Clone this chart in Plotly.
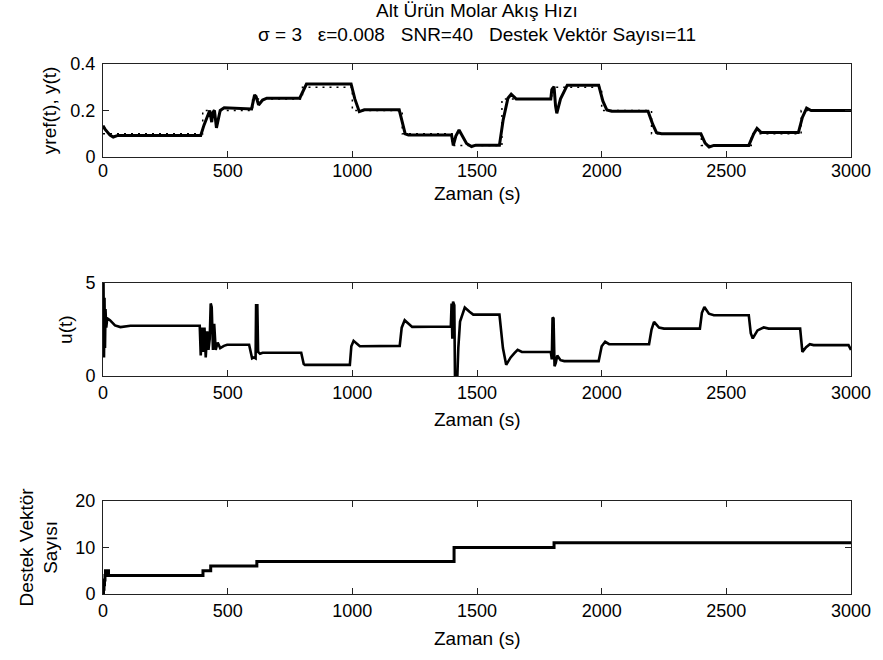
import plotly.graph_objects as go

# ---------------- data ----------------
# Top panel: plant output y(t)
t_y = [0, 8, 28, 41, 60, 392, 405, 418, 428, 436, 440, 447, 455, 470, 486, 596, 608, 614, 624, 640,
       657, 789, 816, 995, 1010, 1028, 1048, 1188, 1200, 1212, 1225, 1398, 1405, 1415, 1428, 1440,
       1458, 1478, 1495, 1590, 1605, 1624, 1637, 1657, 1796, 1800, 1809, 1815, 1820, 1835, 1862,
       1988, 2005, 2021, 2040, 2186, 2205, 2220, 2240, 2398, 2415, 2431, 2450, 2590, 2610, 2623,
       2640, 2789, 2805, 2822, 2840, 3000]
y_out = [0.135, 0.12, 0.094, 0.086, 0.093, 0.093, 0.137, 0.17, 0.2, 0.15, 0.19, 0.2, 0.125, 0.2, 0.212,
         0.207, 0.267, 0.26, 0.224, 0.245, 0.253, 0.253, 0.314, 0.314, 0.25, 0.195, 0.203, 0.203,
         0.15, 0.1, 0.095, 0.095, 0.05, 0.09, 0.116, 0.09, 0.058, 0.045, 0.051, 0.051, 0.16, 0.253,
         0.27, 0.25, 0.25, 0.29, 0.303, 0.22, 0.188, 0.25, 0.309, 0.309, 0.24, 0.202, 0.197, 0.197,
         0.14, 0.105, 0.1, 0.1, 0.06, 0.043, 0.05, 0.05, 0.1, 0.123, 0.105, 0.105, 0.17, 0.21, 0.2, 0.2]

# Top panel: reference yref(t) (piecewise constant)
t_ref = [0, 400, 600, 800, 1000, 1200, 1400, 1600, 1800, 2000, 2200, 2400, 2600, 2800, 3000]
y_ref = [0.1, 0.2, 0.25, 0.3, 0.2, 0.1, 0.05, 0.25, 0.3, 0.2, 0.1, 0.05, 0.1, 0.2, 0.2]

# Middle panel: control signal u(t)
t_u = [0, 2, 4, 6, 8, 10, 13, 17, 28, 48, 70, 90, 110, 388, 392, 397, 402, 407, 412, 418, 423, 428,
       432, 436, 441, 446, 452, 460, 470, 485, 498, 586, 593, 598, 605, 612, 614, 619, 622, 630, 640,
       795, 805, 810, 990, 996, 1005, 1030, 1190, 1198, 1210, 1240, 1395, 1398, 1401, 1404, 1409,
       1412, 1420, 1425, 1432, 1451, 1470, 1485, 1590, 1604, 1617, 1635, 1650, 1663, 1680, 1796,
       1800, 1803, 1807, 1811, 1816, 1822, 1835, 1850, 1988, 2000, 2014, 2030, 2190, 2200, 2210,
       2230, 2250, 2394, 2402, 2412, 2430, 2450, 2590, 2598, 2606, 2625, 2650, 2670, 2796, 2801,
       2805, 2820, 2835, 2850, 2990, 3000]
u_vals = [1.0, 5.0, 1.0, 4.2, 1.5, 3.6, 2.6, 3.1, 3.0, 2.72, 2.63, 2.65, 2.7, 2.7, 1.1, 2.6, 1.3,
          2.6, 1.0, 2.4, 1.4, 2.0, 3.9, 3.7, 1.4, 2.8, 1.4, 1.8, 1.5, 1.62, 1.68, 1.68, 1.2, 0.95,
          1.0, 0.95, 3.8, 3.8, 1.3, 1.2, 1.25, 1.25, 0.65, 0.6, 0.6, 1.6, 1.89, 1.6, 1.62, 2.6, 3.0,
          2.64, 2.66, 3.9, 2.0, 4.0, 3.8, -0.5, -0.5, 1.5, 2.93, 3.68, 3.45, 3.3, 3.3, 1.5, 0.6, 1.0,
          1.23, 1.41, 1.29, 1.29, 0.9, 3.15, 3.1, 0.52, 0.7, 1.1, 0.85, 0.8, 0.8, 1.6, 1.84, 1.71,
          1.71, 2.5, 2.91, 2.6, 2.55, 2.55, 3.4, 3.71, 3.35, 3.27, 3.27, 2.3, 2.02, 2.45, 2.61, 2.55,
          2.55, 1.6, 1.3, 1.55, 1.71, 1.66, 1.66, 1.4]

# Bottom panel: number of support vectors
t_sv = [0, 2, 4, 6, 8, 10, 22, 401, 432, 617, 1408, 1809, 3000]
sv_vals = [0, 1, 2, 3, 4, 5, 4, 5, 6, 7, 10, 11, 11]

x_ticks = [0, 500, 1000, 1500, 2000, 2500, 3000]
y1_ticks = [0, 0.2, 0.4]
y2_ticks = [0, 5]
y3_ticks = [0, 10, 20]

title_1 = "Alt Ürün Molar Akış Hızı"
title_2 = "σ = 3\u00a0\u00a0\u00a0ε=0.008\u00a0\u00a0\u00a0SNR=40\u00a0\u00a0\u00a0Destek Vektör Sayısı=11"
x_title = "Zaman (s)"
y1_title = "yref(t), y(t)"
y2_title = "u(t)"
y3_title = "Destek Vektör<br>Sayısı"

# ---------------- figure ----------------
FONT = "Liberation Sans, Arial, Helvetica, sans-serif"
AX = "#222222"
TICK_SIZE = 18
TEXT_SIZE = 19

fig = go.Figure()
fig.add_trace(go.Scatter(x=t_y, y=y_out, mode="lines", line=dict(color="black", width=3),
                         xaxis="x", yaxis="y", showlegend=False))
fig.add_trace(go.Scatter(x=t_ref, y=y_ref, mode="lines",
                         line=dict(color="black", width=1.5, dash="2px,5px", shape="hv"),
                         xaxis="x", yaxis="y", showlegend=False))
fig.add_trace(go.Scatter(x=t_u, y=u_vals, mode="lines", line=dict(color="black", width=2.6),
                         xaxis="x2", yaxis="y2", showlegend=False))
fig.add_trace(go.Scatter(x=t_sv, y=sv_vals, mode="lines",
                         line=dict(color="black", width=3, shape="hv"),
                         xaxis="x3", yaxis="y3", showlegend=False))


def xa(anchor, standoff=0):
    return dict(range=[0, 3000], tickvals=x_ticks, ticks="inside", ticklen=6, tickcolor=AX,
                showline=True, linecolor=AX, linewidth=1, mirror="ticks", showgrid=False,
                zeroline=False, anchor=anchor, domain=[0, 1], ticklabelstandoff=standoff,
                tickfont=dict(size=TICK_SIZE, color="black"))


def ya(anchor, rng, ticks, dom):
    return dict(range=rng, tickvals=ticks, ticks="inside", ticklen=6, tickcolor=AX,
                showline=True, linecolor=AX, linewidth=1, mirror="ticks", showgrid=False,
                zeroline=False, anchor=anchor, domain=dom, ticklabelstandoff=3,
                tickfont=dict(size=TICK_SIZE, color="black"))


fig.update_layout(
    width=883, height=660,
    margin=dict(l=103, r=25, t=64, b=66),
    paper_bgcolor="white", plot_bgcolor="white",
    font=dict(family=FONT, size=TICK_SIZE, color="black"),
    xaxis=xa("y", -3), yaxis=ya("x", [0, 0.4], y1_ticks, [0.8245, 1.0]),
    xaxis2=xa("y2"), yaxis2=ya("x2", [0, 5], y2_ticks, [0.4113, 0.5868]),
    xaxis3=xa("y3"), yaxis3=ya("x3", [0, 20], y3_ticks, [0.0, 0.1755]),
)

ann = [
    dict(text=title_1, x=0.5, y=1.1005, yanchor="middle"),
    dict(text=title_2, x=0.5, y=1.0565, yanchor="middle"),
    dict(text=x_title, x=0.5, y=0.7565, yanchor="middle"),
    dict(text=x_title, x=0.5, y=0.330, yanchor="middle"),
    dict(text=x_title, x=0.5, y=-0.084, yanchor="middle"),
    dict(text=y1_title, x=-0.0715, y=0.912, textangle=-90, xanchor="center", yanchor="middle"),
    dict(text=y2_title, x=-0.0503, y=0.499, textangle=-90, xanchor="center", yanchor="middle"),
    dict(text=y3_title, x=-0.0868, y=0.0877, textangle=-90, xanchor="center", yanchor="middle"),
]
for a in ann:
    a.update(xref="paper", yref="paper", showarrow=False,
             font=dict(family=FONT, size=TEXT_SIZE, color="black"))
    a.setdefault("xanchor", "center")
fig.update_layout(annotations=ann)

fig.write_html("out.html")
